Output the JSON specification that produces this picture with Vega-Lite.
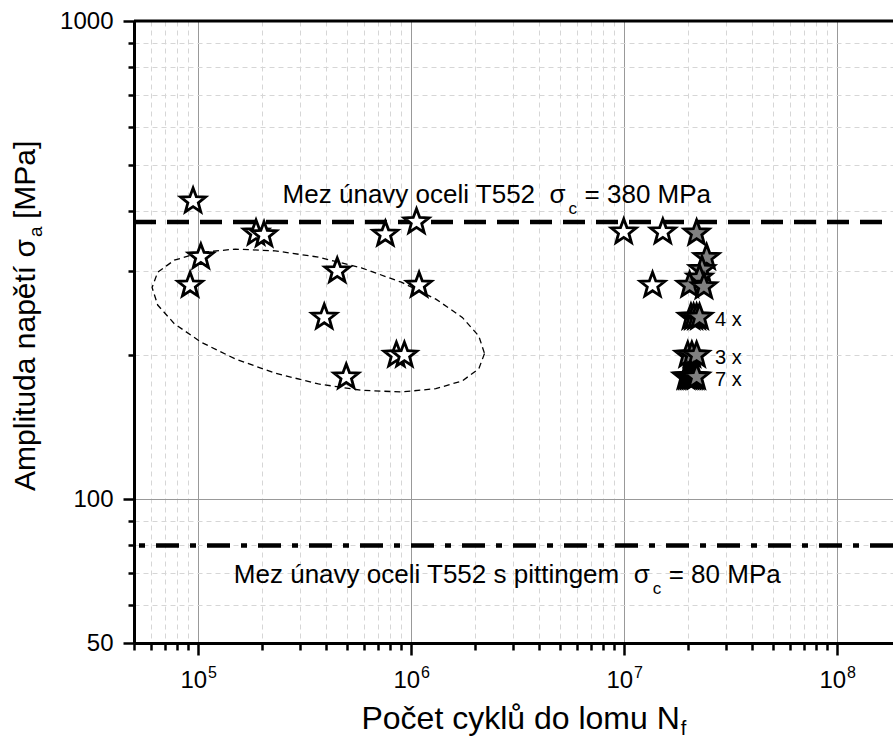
{
  "$schema": "https://vega.github.io/schema/vega-lite/v6.json",
  "width": 759,
  "height": 622,
  "autosize": {"type": "none"},
  "padding": {"left": 134, "top": 21, "right": 0, "bottom": 97},
  "background": "white",
  "config": {"font": "Liberation Sans", "view": {"stroke": null}},
  "datasets": {
    "open": [
      {"N": 94700, "S": 420}, {"N": 187000, "S": 360}, {"N": 204000, "S": 357},
      {"N": 103000, "S": 321}, {"N": 91700, "S": 280}, {"N": 450000, "S": 300},
      {"N": 391000, "S": 240}, {"N": 496000, "S": 180}, {"N": 853000, "S": 200},
      {"N": 930000, "S": 200}, {"N": 757000, "S": 358}, {"N": 1060000, "S": 380},
      {"N": 1090000, "S": 280}, {"N": 9960000, "S": 362}, {"N": 15200000, "S": 362},
      {"N": 13600000, "S": 280}
    ],
    "filled": [
      {"N": 21900000, "S": 360}, {"N": 24400000, "S": 320}, {"N": 23200000, "S": 302},
      {"N": 22600000, "S": 290}, {"N": 20300000, "S": 280}, {"N": 23700000, "S": 278},
      {"N": 20600000, "S": 240}, {"N": 21200000, "S": 240}, {"N": 21900000, "S": 240}, {"N": 22600000, "S": 240},
      {"N": 19900000, "S": 200}, {"N": 20800000, "S": 200}, {"N": 21900000, "S": 200},
      {"N": 19500000, "S": 180}, {"N": 19900000, "S": 180}, {"N": 20300000, "S": 180}, {"N": 20700000, "S": 180},
      {"N": 21100000, "S": 180}, {"N": 21500000, "S": 180}, {"N": 21900000, "S": 180}
    ],
    "counts": [
      {"N": 26700000, "S": 240, "t": "4 x"},
      {"N": 26700000, "S": 200, "t": "3 x"},
      {"N": 26700000, "S": 180, "t": "7 x"}
    ],
    "hlines": [
      {"S": 380, "kind": "limit"},
      {"S": 80, "kind": "pitting"},
      {"S": 1000, "kind": "frame"}
    ],
    "ellipse": [
      {"i": 0, "N": 2211000, "S": 201.6}, {"i": 1, "N": 2079000, "S": 187.3},
      {"i": 2, "N": 1739000, "S": 176.7}, {"i": 3, "N": 1307000, "S": 170.2},
      {"i": 4, "N": 900000, "S": 167.5}, {"i": 5, "N": 584000, "S": 168.9},
      {"i": 6, "N": 367000, "S": 174.1}, {"i": 7, "N": 230000, "S": 183.4},
      {"i": 8, "N": 149300, "S": 196.4}, {"i": 9, "N": 102900, "S": 213.1},
      {"i": 10, "N": 77300, "S": 232.8}, {"i": 11, "N": 64600, "S": 254.6},
      {"i": 12, "N": 60800, "S": 277.0}, {"i": 13, "N": 64600, "S": 298.2},
      {"i": 14, "N": 77300, "S": 316.0}, {"i": 15, "N": 102900, "S": 328.1},
      {"i": 16, "N": 149300, "S": 333.3}, {"i": 17, "N": 230000, "S": 330.5},
      {"i": 18, "N": 367000, "S": 320.7}, {"i": 19, "N": 584000, "S": 304.6},
      {"i": 20, "N": 900000, "S": 284.2}, {"i": 21, "N": 1307000, "S": 262.0},
      {"i": 22, "N": 1739000, "S": 239.9}, {"i": 23, "N": 2079000, "S": 219.3},
      {"i": 24, "N": 2211000, "S": 201.6}
    ],
    "notes": [
      {"N": 5310000, "S": 416, "main": "Mez únavy oceli T552\u00a0\u00a0σ", "sub": "c", "rest": "= 380 MPa"},
      {"N": 13190000, "S": 66.7, "main": "Mez únavy oceli T552 s pittingem\u00a0\u00a0σ", "sub": "c", "rest": "= 80 MPa"}
    ],
    "xlabels": [
      {"N": 100000, "S": 50, "base": "10", "e": "5"},
      {"N": 1000000, "S": 50, "base": "10", "e": "6"},
      {"N": 10000000, "S": 50, "base": "10", "e": "7"},
      {"N": 100000000, "S": 50, "base": "10", "e": "8"}
    ],
    "xtitle": [{"N": 18260000, "S": 50, "main": "Počet cyklů do lomu N", "sub": "f"}],
    "ytitle": [{"N": 50000, "S": 350, "main": "Amplituda napětí σ", "sub": "a", "rest": "[MPa]"}]
  },
  "layer": [
    {
      "data": {"name": "ellipse"},
      "mark": {"type": "line", "color": "black", "strokeWidth": 1.3, "strokeDash": [6, 4]},
      "encoding": {
        "x": {
          "field": "N", "type": "quantitative",
          "scale": {"type": "log", "domain": [50000, 183000000], "nice": false},
          "axis": {
            "title": null, "labels": false, "orient": "bottom",
            "values": [50000, 60000, 70000, 80000, 90000, 100000, 200000, 300000, 400000, 500000, 600000, 700000, 800000, 900000, 1000000, 2000000, 3000000, 4000000, 5000000, 6000000, 7000000, 8000000, 9000000, 10000000, 20000000, 30000000, 40000000, 50000000, 60000000, 70000000, 80000000, 90000000, 100000000],
            "domainColor": "black", "domainWidth": 3,
            "tickColor": "black", "tickWidth": 2.5,
            "tickSize": {"condition": {"test": "abs(log(datum.value)/LN10 - round(log(datum.value)/LN10)) < 0.01", "value": 12}, "value": 7},
            "grid": true, "gridWidth": 1,
            "gridColor": {"condition": {"test": "abs(log(datum.value)/LN10 - round(log(datum.value)/LN10)) < 0.01", "value": "#999999"}, "value": "#d6d6d6"},
            "gridDash": {"condition": {"test": "abs(log(datum.value)/LN10 - round(log(datum.value)/LN10)) < 0.01", "value": []}, "value": [5, 4]}
          }
        },
        "y": {
          "field": "S", "type": "quantitative",
          "scale": {"type": "log", "domain": [50, 1000], "nice": false},
          "axis": {
            "title": null, "orient": "left",
            "values": [50, 60, 70, 80, 90, 100, 200, 300, 400, 500, 600, 700, 800, 900, 1000],
            "labelExpr": "(datum.value == 50 || datum.value == 100 || datum.value == 1000) ? '' + datum.value : ''",
            "labelFont": "Liberation Sans", "labelFontSize": 24, "labelColor": "black", "labelPadding": 10,
            "domainColor": "black", "domainWidth": 3,
            "tickColor": "black", "tickWidth": 2.5,
            "tickSize": {"condition": {"test": "datum.value == 50 || datum.value == 100 || datum.value == 1000", "value": 11}, "value": 6},
            "grid": true, "gridWidth": 1,
            "gridColor": {"condition": {"test": "datum.value == 100", "value": "#999999"}, "value": "#d6d6d6"},
            "gridDash": {"condition": {"test": "datum.value == 100", "value": []}, "value": [5, 4]}
          }
        },
        "order": {"field": "i", "type": "quantitative"}
      }
    },
    {
      "data": {"name": "hlines"},
      "transform": [{"filter": "datum.kind == 'limit'"}],
      "mark": {"type": "rule", "color": "black", "strokeWidth": 4.5, "strokeDash": [22, 11], "strokeDashOffset": 22},
      "encoding": {"y": {"field": "S", "type": "quantitative"}}
    },
    {
      "data": {"name": "hlines"},
      "transform": [{"filter": "datum.kind == 'pitting'"}],
      "mark": {"type": "rule", "color": "black", "strokeWidth": 4.5, "strokeDash": [23, 11, 6, 11]},
      "encoding": {"y": {"field": "S", "type": "quantitative"}}
    },
    {
      "data": {"name": "hlines"},
      "transform": [{"filter": "datum.kind == 'frame'"}],
      "mark": {"type": "rule", "color": "black", "strokeWidth": 3},
      "encoding": {"y": {"field": "S", "type": "quantitative"}}
    },
    {
      "data": {"name": "notes"},
      "mark": {"type": "text", "align": "right", "baseline": "alphabetic", "fontSize": 26, "color": "black"},
      "encoding": {"x": {"field": "N", "type": "quantitative"}, "y": {"field": "S", "type": "quantitative"}, "text": {"field": "main"}}
    },
    {
      "data": {"name": "notes"},
      "mark": {"type": "text", "align": "left", "baseline": "alphabetic", "fontSize": 17, "dx": 3, "dy": 11, "color": "black"},
      "encoding": {"x": {"field": "N", "type": "quantitative"}, "y": {"field": "S", "type": "quantitative"}, "text": {"field": "sub"}}
    },
    {
      "data": {"name": "notes"},
      "mark": {"type": "text", "align": "left", "baseline": "alphabetic", "fontSize": 26, "dx": 19, "color": "black"},
      "encoding": {"x": {"field": "N", "type": "quantitative"}, "y": {"field": "S", "type": "quantitative"}, "text": {"field": "rest"}}
    },
    {
      "data": {"name": "open"},
      "mark": {"type": "point", "shape": "M0,-1L0.2469,-0.3398L0.9511,-0.309L0.3995,0.1298L0.5878,0.809L0,0.42L-0.5878,0.809L-0.3995,0.1298L-0.9511,-0.309L-0.2469,-0.3398Z", "size": 680, "filled": true, "fill": "white", "stroke": "black", "strokeWidth": 2.8, "opacity": 1, "fillOpacity": 1, "strokeJoin": "miter"},
      "encoding": {"x": {"field": "N", "type": "quantitative"}, "y": {"field": "S", "type": "quantitative"}}
    },
    {
      "data": {"name": "filled"},
      "mark": {"type": "point", "shape": "M0,-1L0.2469,-0.3398L0.9511,-0.309L0.3995,0.1298L0.5878,0.809L0,0.42L-0.5878,0.809L-0.3995,0.1298L-0.9511,-0.309L-0.2469,-0.3398Z", "size": 680, "filled": true, "fill": "#808080", "stroke": "black", "strokeWidth": 2.8, "opacity": 1, "fillOpacity": 1, "strokeJoin": "miter"},
      "encoding": {"x": {"field": "N", "type": "quantitative"}, "y": {"field": "S", "type": "quantitative"}}
    },
    {
      "data": {"name": "counts"},
      "mark": {"type": "text", "align": "left", "baseline": "middle", "fontSize": 20, "dy": 3, "color": "black"},
      "encoding": {"x": {"field": "N", "type": "quantitative"}, "y": {"field": "S", "type": "quantitative"}, "text": {"field": "t"}}
    },
    {
      "data": {"name": "xlabels"},
      "mark": {"type": "text", "align": "right", "baseline": "alphabetic", "fontSize": 24, "dx": 9, "dy": 45, "color": "black"},
      "encoding": {"x": {"field": "N", "type": "quantitative"}, "y": {"field": "S", "type": "quantitative"}, "text": {"field": "base"}}
    },
    {
      "data": {"name": "xlabels"},
      "mark": {"type": "text", "align": "left", "baseline": "alphabetic", "fontSize": 16, "dx": 10, "dy": 35, "color": "black"},
      "encoding": {"x": {"field": "N", "type": "quantitative"}, "y": {"field": "S", "type": "quantitative"}, "text": {"field": "e"}}
    },
    {
      "data": {"name": "xtitle"},
      "mark": {"type": "text", "align": "right", "baseline": "alphabetic", "fontSize": 32, "dy": 86, "color": "black"},
      "encoding": {"x": {"field": "N", "type": "quantitative"}, "y": {"field": "S", "type": "quantitative"}, "text": {"field": "main"}}
    },
    {
      "data": {"name": "xtitle"},
      "mark": {"type": "text", "align": "left", "baseline": "alphabetic", "fontSize": 20, "dx": 1, "dy": 92, "color": "black"},
      "encoding": {"x": {"field": "N", "type": "quantitative"}, "y": {"field": "S", "type": "quantitative"}, "text": {"field": "sub"}}
    },
    {
      "data": {"name": "ytitle"},
      "mark": {"type": "text", "align": "right", "baseline": "alphabetic", "fontSize": 30, "angle": 270, "dy": -99, "color": "black"},
      "encoding": {"x": {"field": "N", "type": "quantitative"}, "y": {"field": "S", "type": "quantitative"}, "text": {"field": "main"}}
    },
    {
      "data": {"name": "ytitle"},
      "mark": {"type": "text", "align": "left", "baseline": "alphabetic", "fontSize": 19, "angle": 270, "dx": 2, "dy": -92, "color": "black"},
      "encoding": {"x": {"field": "N", "type": "quantitative"}, "y": {"field": "S", "type": "quantitative"}, "text": {"field": "sub"}}
    },
    {
      "data": {"name": "ytitle"},
      "mark": {"type": "text", "align": "left", "baseline": "alphabetic", "fontSize": 30, "angle": 270, "dx": 20, "dy": -99, "color": "black"},
      "encoding": {"x": {"field": "N", "type": "quantitative"}, "y": {"field": "S", "type": "quantitative"}, "text": {"field": "rest"}}
    }
  ]
}
